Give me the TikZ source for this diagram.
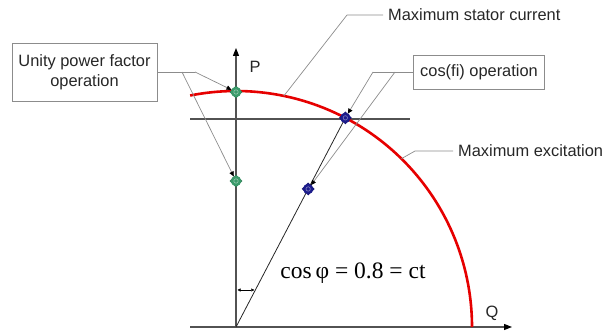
\documentclass[tikz,border=0pt]{standalone}
\usepackage{fontspec}
\setmainfont{Liberation Sans}
\newfontfamily\seriffont{Liberation Serif}
\usetikzlibrary{arrows.meta,shapes.geometric,calc}
\definecolor{mygreen}{HTML}{3A9A6A}
\definecolor{myblue}{HTML}{1C1C8C}
\definecolor{myred}{HTML}{E60000}
\begin{document}
\begin{tikzpicture}[x=1pt,y=-1pt,
  axis/.style={draw=black!68, line width=1.1pt},
  lead/.style={draw=black!45, line width=0.7pt},
  ptr/.style={lead, -{Triangle[length=5pt,width=4.5pt,color=black]}},
  redarc/.style={draw=myred, line width=2.6pt},
  lbl/.style={font=\fontsize{16.4}{20}\selectfont, text=black!85, inner sep=0pt},
  box/.style={font=\fontsize{16.4}{20}\selectfont, text=black!85, draw=black!45, line width=0.7pt, align=center, inner sep=0pt},
  mk/.style={diamond, minimum size=13pt, inner sep=0pt, fill=#1!80!black}
]
\useasboundingbox (0,0) rectangle (604,334);

% axes
\coordinate (O) at (236,327);
\coordinate (Ptop) at (236,48);
\coordinate (Qs) at (190,327);
\coordinate (Qe) at (512,327);
\draw[axis,-{Triangle[length=8pt,width=6pt,color=black]}] (O) -- (Ptop);
\draw[axis,-{Triangle[length=8pt,width=6pt,color=black]}] (Qs) -- (Qe);
\node[lbl] (P) at (255,67) {P};
\node[lbl] (Q) at (492,313) {Q};

% horizontal line
\coordinate (Hs) at (190,119);
\coordinate (He) at (410,119);
\draw[axis] (Hs) -- (He);

% red arc
\draw[redarc] (O) ++(-101.2:236) arc[start angle=-101.2, end angle=0, radius=236];

% points
\path (O) ++(-62.4:236) coordinate (B1p);
\coordinate (B2p) at ($(O)!0.66!(B1p)$);
\draw[axis, line width=0.8pt, draw=black!85] (O) -- (B1p);

\node[mk=mygreen] (g1) at (236,92) {};
\node[mk=mygreen] (g2) at (236,181) {};
\node[mk=myblue] (b1) at (B1p) {};
\node[mk=myblue] (b2) at (B2p) {};
\foreach \n/\c in {g1/mygreen,g2/mygreen,b1/myblue,b2/myblue}{
  \fill[\c] (\n.center) circle (5.2pt);
  \draw[\c!55!white, line width=0.6pt] (\n.center) circle (2.2pt);
}

% angle marker
\coordinate (A2) at ($(O)!0.177!(B1p)$);
\coordinate (A1) at (O |- A2);
\draw[line width=0.5pt, {Triangle[length=3pt,width=3pt]}-{Triangle[length=3pt,width=3pt]}] ([xshift=1.5pt]A1) -- ([xshift=-1pt]A2);

% formula
\node[inner sep=0pt] (f) at (353,273) {\seriffont\fontsize{23.5}{26}\selectfont cos\,φ = 0.8 = ct};

% Unity power factor box
\node[box, minimum width=145pt, minimum height=58pt] (ub) at (84.5,72) {Unity power factor\\operation};
\coordinate (u1) at (195,72);
\coordinate (u2) at (182,72);
\draw[lead] (ub.east) -- (u1);
\draw[ptr] (u1) -- (g1);
\draw[ptr] (u2) -- (g2);

% Maximum stator current
\node[lbl, anchor=west] (st) at (388,15) {Maximum stator current};
\coordinate (s1) at (347,15);
\path (O) ++(-78.3:236) coordinate (sa);
\draw[lead] ([xshift=-5pt]st.west) -- (s1) -- (sa);

% cos(fi) operation
\node[box, minimum width=131pt, minimum height=34pt] (cb) at (479,72) {cos(fi) operation};
\coordinate (c1) at (373,72);
\coordinate (c2) at (395,72);
\draw[lead] (cb.west) -- (c1);
\draw[ptr] (c1) -- (b1);
\draw[ptr] (c2) -- (b2);

% Maximum excitation
\node[lbl, anchor=west] (ex) at (458,151) {Maximum excitation};
\coordinate (e1) at (415,151);
\path (O) ++(-45.5:236) coordinate (ea);
\draw[lead] ([xshift=-5pt]ex.west) -- (e1) -- (ea);
\end{tikzpicture}
\end{document}
